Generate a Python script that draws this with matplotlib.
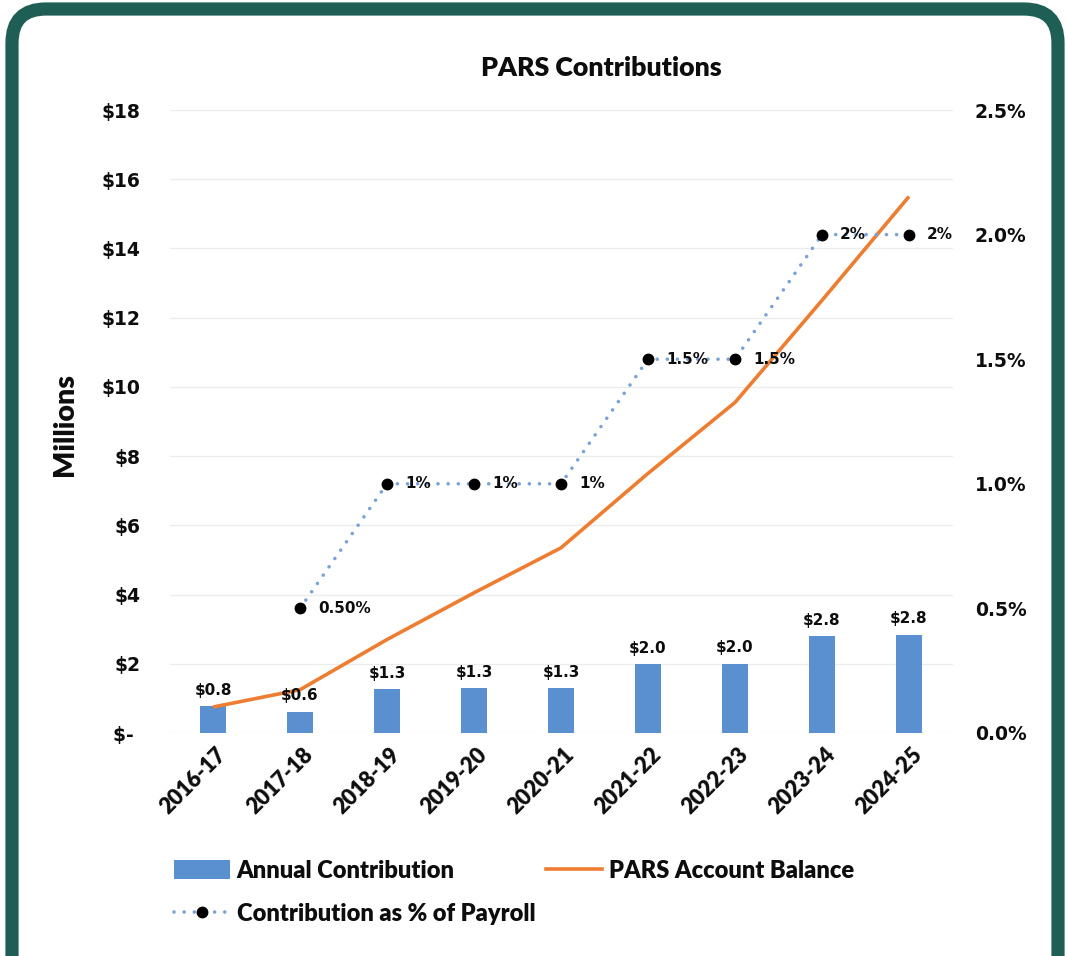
import numpy as np
import matplotlib
matplotlib.use("Agg")
import matplotlib.pyplot as plt
from matplotlib import font_manager as fm
from matplotlib.patches import FancyBboxPatch, Patch
from matplotlib.lines import Line2D
from matplotlib.transforms import ScaledTranslation

# ---------------- data ----------------
years = ["2016-17", "2017-18", "2018-19", "2019-20", "2020-21",
         "2021-22", "2022-23", "2023-24", "2024-25"]
annual_contribution = [0.77, 0.62, 1.27, 1.3, 1.3, 1.98, 2.0, 2.8, 2.84]  # $ millions
account_balance = [0.75, 1.25, 2.7, 4.05, 5.35, 7.5, 9.55, 12.5, 15.5]     # $ millions
pct_payroll = [np.nan, 0.5, 1.0, 1.0, 1.0, 1.5, 1.5, 2.0, 2.0]             # %
pct_labels = ["", "0.50%", "1%", "1%", "1%", "1.5%", "1.5%", "2%", "2%"]
left_ticks = [0, 2, 4, 6, 8, 10, 12, 14, 16, 18]
right_ticks = [0.0, 0.5, 1.0, 1.5, 2.0, 2.5]

BAR = "#5a8fd0"
ORANGE = "#ed7d31"
DOT = "#7aa2d8"
TEAL = "#1e5e54"
TXT = "#0d0d0d"


def _w(v):
    if isinstance(v, str):
        return fm.weight_dict.get(v, 400)
    return v


def bold_family():
    names = {}
    for f in fm.fontManager.ttflist:
        names.setdefault(f.name, []).append(_w(f.weight))
    for cand in ["Lato", "Open Sans", "Noto Sans", "Roboto", "Liberation Sans"]:
        if cand in names and max(names[cand]) >= 700:
            ws = sorted(set(names[cand]))
            heavy = [w for w in ws if 700 <= w <= 800]
            return cand, max(heavy) if heavy else 700
    return "DejaVu Sans", 700


HUM, HW = bold_family()

W, H = 1067, 956
fig = plt.figure(figsize=(W / 100, H / 100), dpi=100)
fig.patch.set_facecolor("white")
renderer = fig.canvas.get_renderer()


def fit(txt, family, target_px, weight=HW, size0=15.0):
    t = fig.text(0, 0, txt, fontfamily=family, fontweight=weight, fontsize=size0)
    w = t.get_window_extent(renderer).width
    t.remove()
    return size0 * target_px / w


# ---------------- frame ----------------
bg = fig.add_axes([0, 0, 1, 1], zorder=0)
bg.set_xlim(0, W)
bg.set_ylim(H, 0)
bg.axis("off")
frame = FancyBboxPatch((12, 9), 1046, 1000,
                       boxstyle="round,pad=0,rounding_size=34",
                       linewidth=9.5, edgecolor=TEAL, facecolor="white")
bg.add_patch(frame)

# ---------------- main axes ----------------
ax = fig.add_axes([169.5 / W, 1 - 733 / H, 783 / W, 623 / H], zorder=2)
ax.patch.set_alpha(0)
x = np.arange(len(years))

ax.bar(x, annual_contribution, width=0.31, color=BAR, zorder=2)
ax.plot(x, account_balance, color=ORANGE, lw=2.6, zorder=4,
        solid_capstyle="butt")

ax.set_xlim(-0.5, len(years) - 0.5)
ax.set_ylim(0, 18)
ax.set_yticks(left_ticks)
ax.set_yticklabels(["$- " if v == 0 else f"${v}" for v in left_ticks],
                   fontfamily="DejaVu Sans", fontweight="bold",
                   fontsize=13.5, color=TXT)
ax.tick_params(axis="y", length=0, pad=21)
ax.grid(axis="y", color="#ececec", lw=1, zorder=0)
ax.set_axisbelow(True)
for s in ax.spines.values():
    s.set_visible(False)

xt_size = fit("2016-17", HUM, 84)
ax.set_xticks(x)
ax.set_xticklabels(years, rotation=45, ha="right", va="center",
                   rotation_mode="anchor", fontfamily=HUM,
                   fontweight=HW, fontsize=xt_size, color=TXT)
ax.tick_params(axis="x", length=0, pad=13)
off = ScaledTranslation(0.10, 0, fig.dpi_scale_trans)
for lab in ax.get_xticklabels():
    lab.set_transform(lab.get_transform() + off)

for xi, v in zip(x, annual_contribution):
    ax.annotate(f"${v:.1f}", (xi, v), xytext=(0, 6), textcoords="offset points",
                ha="center", va="bottom", fontfamily="DejaVu Sans",
                fontweight="bold", fontsize=11, color=TXT, zorder=6)

# ---------------- secondary axis ----------------
ax2 = ax.twinx()
ax2.set_zorder(3)
ax2.patch.set_alpha(0)
DOTSTYLE = (0, (0.01, 2.8))
ax2.plot(x, pct_payroll, color=DOT, lw=2.6, linestyle=DOTSTYLE,
         dash_capstyle="round", zorder=3)
ax2.plot(x, pct_payroll, linestyle="none", marker="o", markersize=7.5,
         color="black", zorder=5)
for xi, v, lab in zip(x, pct_payroll, pct_labels):
    if lab:
        ax2.annotate(lab, (xi, v), xytext=(13, 0), textcoords="offset points",
                     ha="left", va="center", fontfamily="DejaVu Sans",
                     fontweight="bold", fontsize=11, color=TXT, zorder=6)
ax2.set_ylim(0, 2.5)
ax2.set_yticks(right_ticks)
ax2.set_yticklabels([f"{v:.1f}%" for v in right_ticks],
                    fontfamily="DejaVu Sans", fontweight="bold",
                    fontsize=13.5, color=TXT)
ax2.tick_params(axis="y", length=0, pad=16)
for s in ax2.spines.values():
    s.set_visible(False)

# ---------------- texts ----------------
fig.text(601 / W, 1 - 68 / H, "PARS Contributions", ha="center", va="center",
         fontfamily=HUM, fontweight=HW,
         fontsize=fit("PARS Contributions", HUM, 243), color=TXT)
fig.text(65 / W, 1 - 425 / H, "Millions", ha="center", va="center",
         rotation=90, fontfamily=HUM, fontweight=HW,
         fontsize=fit("Millions", HUM, 104), color=TXT)

# ---------------- legend ----------------
leg_size = fit("Annual Contribution", HUM, 219)
hl = 56 / (leg_size * 100 / 72)
entries = [
    (Patch(facecolor=BAR, edgecolor="none"), "Annual Contribution", 174, 871),
    (Line2D([], [], color=DOT, lw=2.6, linestyle=DOTSTYLE,
            dash_capstyle="round", marker="o", markersize=7.5,
            markerfacecolor="black", markeredgecolor="black"),
     "Contribution as % of Payroll", 174, 914),
    (Line2D([], [], color=ORANGE, lw=2.6), "PARS Account Balance", 546, 871),
]
for h, lab, px, py in entries:
    leg = fig.legend([h], [lab], loc="center left",
                     bbox_to_anchor=(px / W, 1 - py / H), frameon=False,
                     prop=dict(family=HUM, weight=HW, size=leg_size),
                     handlelength=hl, handleheight=0.85, handletextpad=0.28,
                     borderpad=0, borderaxespad=0)
    for t in leg.get_texts():
        t.set_color(TXT)

fig.savefig("out.png", dpi=100, facecolor="white")
